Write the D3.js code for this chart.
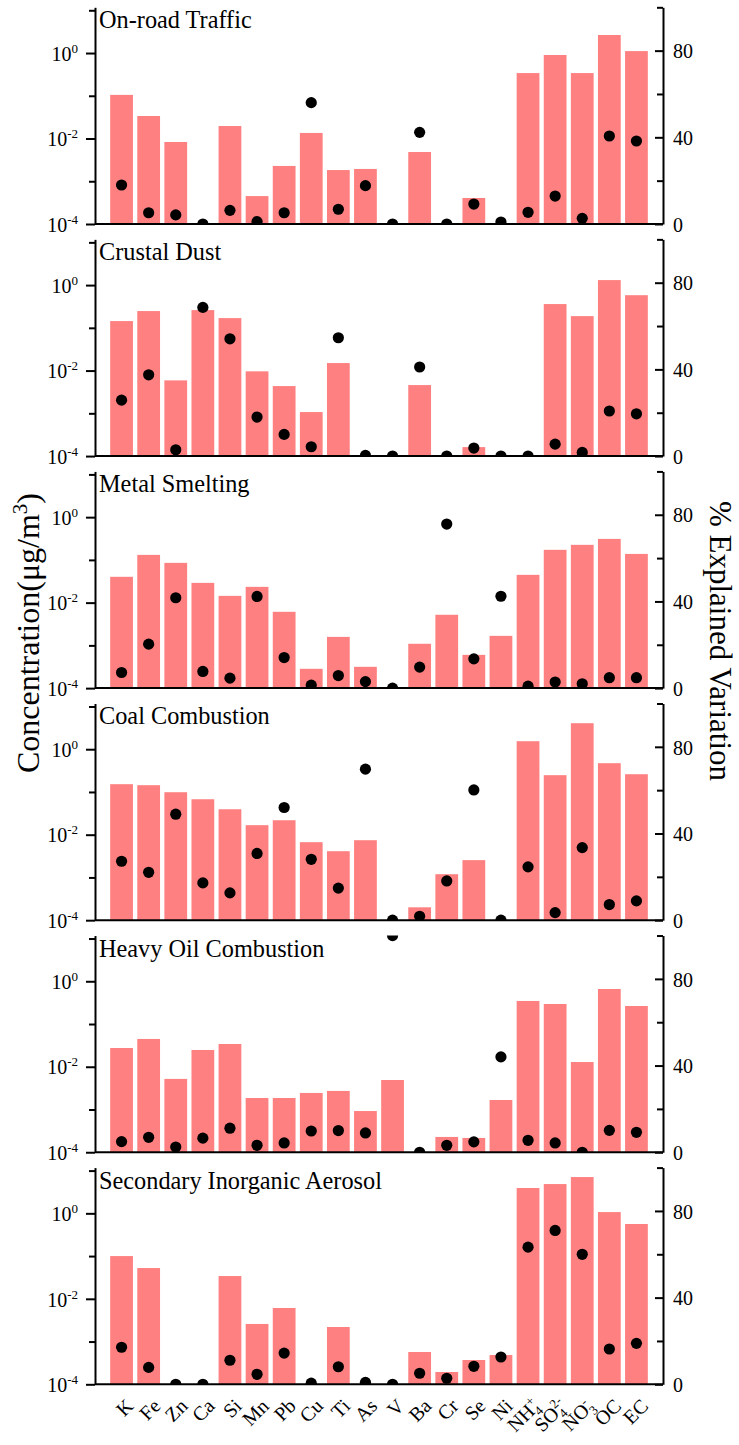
<!DOCTYPE html>
<html>
<head>
<meta charset="utf-8">
<script src="https://cdn.jsdelivr.net/npm/d3@7"></script>
<style>
  body { margin: 0; background: #fff; }
  svg { display: block; }
</style>
</head>
<body>
<svg id="chart" width="739" height="1445"></svg>
<script>
// Species (x categories)
const elements = ["K", "Fe", "Zn", "Ca", "Si", "Mn", "Pb", "Cu", "Ti", "As",
                  "V", "Ba", "Cr", "Se", "Ni", "NH4+", "SO42-", "NO3-", "OC", "EC"];

// Ion labels drawn as base + subscript + superscript
const ionLabelParts = {
  "NH4+": ["NH", "4", "+"],
  "SO42-": ["SO", "4", "2-"],
  "NO3-": ["NO", "3", "-"]
};

// Source factor names (one panel each)
const sources = ["On-road Traffic", "Crustal Dust", "Metal Smelting",
                 "Coal Combustion", "Heavy Oil Combustion", "Secondary Inorganic Aerosol"];

// Factor profile concentrations (µg/m3); null = not resolved
const concTraffic  = [0.105, 0.0336, 0.0083, null, 0.0196, 4.5e-4, 0.00228, 0.0135, 0.00183, 0.00194,
                      null, 0.00483, null, 4.06e-4, null, 0.34, 0.90, 0.34, 2.64, 1.11];
const concDust     = [0.144, 0.247, 0.0059, 0.26, 0.169, 0.0096, 0.00434, 0.00107, 0.015, null,
                      null, 0.00458, null, 1.62e-4, null, null, 0.36, 0.188, 1.31, 0.58];
const concSmelting = [0.0402, 0.131, 0.0853, 0.029, 0.0144, 0.0234, 0.0061, 2.83e-4, 0.00158, 3.15e-4,
                      null, 0.00109, 0.0052, 6.0e-4, 0.00167, 0.0447, 0.172, 0.225, 0.31, 0.138];
const concCoal     = [0.152, 0.144, 0.0986, 0.0676, 0.0394, 0.0167, 0.0218, 0.00668, 0.00411, 0.00743,
                      null, 2.0e-4, 0.00119, 0.00254, null, 1.54, 0.247, 4.06, 0.471, 0.26];
const concHeavyOil = [0.0275, 0.0447, 0.0052, 0.0247, 0.0341, 0.00186, 0.00186, 0.00244, 0.00272, 9.2e-4,
                      0.0049, null, 2.28e-4, 2.16e-4, 0.00167, 0.346, 0.294, 0.0129, 0.66, 0.264];
const concSIA      = [0.1, 0.0525, null, null, 0.0341, 0.00258, 0.0061, null, 0.00219, null,
                      null, 5.7e-4, 1.94e-4, 3.7e-4, 4.84e-4, 3.91, 4.84, 7.06, 1.07, 0.563];

// % explained variation of each species
const explTraffic  = [18.0, 5.2, 4.2, 0, 6.3, 1.1, 5.2, 56.0, 6.8, 17.7,
                      0, 42.3, 0, 9.2, 0.9, 5.4, 12.9, 2.6, 40.6, 38.3];
const explDust     = [25.8, 37.5, 2.9, 68.6, 54.1, 18.0, 10.0, 4.3, 54.6, 0.3,
                      0, 41.1, 0, 3.7, 0, 0, 5.5, 1.7, 20.8, 19.5];
const explSmelting = [7.2, 20.3, 41.7, 7.7, 4.6, 42.3, 14.1, 1.4, 5.8, 3.0,
                      0, 9.7, 75.7, 13.5, 42.4, 0.9, 2.8, 2.0, 4.8, 4.8];
const explCoal     = [27.2, 22.1, 48.9, 17.2, 12.6, 30.8, 52.0, 28.1, 14.8, 69.7,
                      0, 1.8, 18.1, 60.1, 0, 24.6, 3.5, 33.5, 7.2, 8.9];
const explHeavyOil = [4.9, 6.9, 2.4, 6.5, 11.1, 3.2, 4.3, 9.8, 10.0, 8.9,
                      100, 0, 3.2, 4.8, 44.0, 5.5, 4.3, 0, 10.1, 9.2];
const explSIA      = [17.1, 7.8, 0, 0, 11.1, 4.6, 14.4, 0.5, 8.1, 0.9,
                      0, 5.1, 2.8, 8.3, 12.6, 63.3, 71.0, 60.0, 16.3, 18.9];

const concSeries = [concTraffic, concDust, concSmelting, concCoal, concHeavyOil, concSIA];
const explSeries = [explTraffic, explDust, explSmelting, explCoal, explHeavyOil, explSIA];

// Axis ticks
const concMajorTicks = [1e-4, 1e-2, 1];
const concMinorTicks = [1e-3, 1e-1, 10];
const explMajorTicks = [0, 40, 80];
const explMinorTicks = [20, 60, 100];

// ---- layout ----
const serif = '"Liberation Serif", "Times New Roman", Times, serif';
const barColor = "#ff8080";
const left = 95, right = 663;
const firstBottom = 224, panelStep = 232.06, plotH = 216.7;
const concTop = Math.pow(10, 1.07);

const svg = d3.select("#chart");

const x = d3.scaleBand()
  .domain(elements)
  .range([left, right])
  .paddingInner(0.16)
  .paddingOuter(0.56);

function styleAxis(g) {
  g.attr("font-family", serif).attr("font-size", 20);
  g.selectAll(".domain").attr("stroke", "#000").attr("stroke-width", 2);
  g.selectAll(".tick line").attr("stroke", "#000").attr("stroke-width", 2);
  g.selectAll(".tick text").attr("fill", "#000");
}

sources.forEach((name, i) => {
  const bottom = firstBottom + i * panelStep;
  const top = bottom - plotH;
  const conc = concSeries[i];
  const expl = explSeries[i];

  const yL = d3.scaleLog().domain([1e-4, concTop]).range([bottom, top]);
  const yR = d3.scaleLinear().domain([0, 100]).range([bottom, top]);

  const panel = svg.append("g").attr("class", "panel");

  const clipId = "clip" + i;
  panel.append("clipPath").attr("id", clipId)
    .append("rect")
    .attr("x", left).attr("y", top)
    .attr("width", right - left).attr("height", bottom - top);

  const plot = panel.append("g").attr("clip-path", `url(#${clipId})`);

  // concentration bars (log scale)
  plot.selectAll("rect.bar")
    .data(elements.map((e, j) => ({ e, v: conc[j] })).filter(d => d.v != null && d.v > 0))
    .join("rect")
    .attr("class", "bar")
    .attr("x", d => x(d.e))
    .attr("width", x.bandwidth())
    .attr("y", d => yL(d.v))
    .attr("height", d => yL(1e-4) - yL(d.v))
    .attr("fill", barColor);

  // % explained variation dots
  plot.selectAll("circle.dot")
    .data(elements.map((e, j) => ({ e, v: expl[j] })))
    .join("circle")
    .attr("class", "dot")
    .attr("cx", d => x(d.e) + x.bandwidth() / 2)
    .attr("cy", d => yR(d.v))
    .attr("r", 5.6)
    .attr("fill", "#000");

  // bottom axis line
  panel.append("line")
    .attr("x1", left).attr("x2", right)
    .attr("y1", bottom).attr("y2", bottom)
    .attr("stroke", "#000").attr("stroke-width", 2);

  // left log axis: labelled decades
  const gL = panel.append("g").attr("transform", `translate(${left},0)`)
    .call(d3.axisLeft(yL).tickValues(concMajorTicks).tickSizeInner(9).tickSizeOuter(0)
      .tickPadding(8).tickFormat(() => ""));
  styleAxis(gL);
  gL.selectAll(".tick text").attr("dy", "0.36em").each(function (d) {
    const t = d3.select(this);
    t.text("10");
    t.append("tspan").attr("font-size", 13).attr("dy", "-8").text(Math.round(Math.log10(d)));
  });
  const gLm = panel.append("g").attr("transform", `translate(${left},0)`)
    .call(d3.axisLeft(yL).tickValues(concMinorTicks).tickSizeInner(6).tickSizeOuter(0)
      .tickFormat(() => ""));
  styleAxis(gLm);
  gLm.select(".domain").remove();

  // right linear axis (ticks point inward)
  const gR = panel.append("g").attr("transform", `translate(${right},0)`)
    .call(d3.axisRight(yR).tickValues(explMajorTicks).tickSizeInner(-8).tickSizeOuter(0)
      .tickPadding(10).tickFormat(d3.format("d")));
  styleAxis(gR);
  gR.selectAll(".tick text").attr("dy", "0.36em");
  const gRm = panel.append("g").attr("transform", `translate(${right},0)`)
    .call(d3.axisRight(yR).tickValues(explMinorTicks).tickSizeInner(-6).tickSizeOuter(0)
      .tickFormat(() => ""));
  styleAxis(gRm);
  gRm.select(".domain").remove();

  // panel title
  panel.append("text")
    .attr("x", 99).attr("y", top + 21)
    .attr("font-family", serif).attr("font-size", 24.3)
    .attr("fill", "#000")
    .text(name);

  // species labels under the last panel
  if (i === sources.length - 1) {
    const gx = panel.append("g").attr("font-family", serif).attr("font-size", 20);
    elements.forEach(e => {
      const cx = x(e) + x.bandwidth() / 2;
      const t = gx.append("text")
        .attr("transform", `translate(${cx + 13},${bottom + 23}) rotate(-45)`)
        .attr("text-anchor", "end")
        .attr("fill", "#000");
      const parts = ionLabelParts[e];
      if (parts) {
        t.append("tspan").text(parts[0]);
        t.append("tspan").attr("font-size", 13).attr("dy", 5).text(parts[1]);
        t.append("tspan").attr("font-size", 13).attr("dx", -6.5).attr("dy", -13).text(parts[2]);
      } else {
        t.text(e);
      }
    });
  }
});

// axis titles
const yTitle = svg.append("text")
  .attr("transform", "translate(38.5,633) rotate(-90)")
  .attr("text-anchor", "middle")
  .attr("font-family", serif).attr("font-size", 32)
  .attr("fill", "#000");
yTitle.append("tspan").text("Concentration(μg/m");
yTitle.append("tspan").attr("font-size", 21).attr("dy", -12).text("3");
yTitle.append("tspan").attr("dy", 12).text(")");

svg.append("text")
  .attr("transform", "translate(710,641) rotate(90)")
  .attr("text-anchor", "middle")
  .attr("font-family", serif).attr("font-size", 31)
  .attr("fill", "#000")
  .text("% Explained Variation");
</script>
</body>
</html>
